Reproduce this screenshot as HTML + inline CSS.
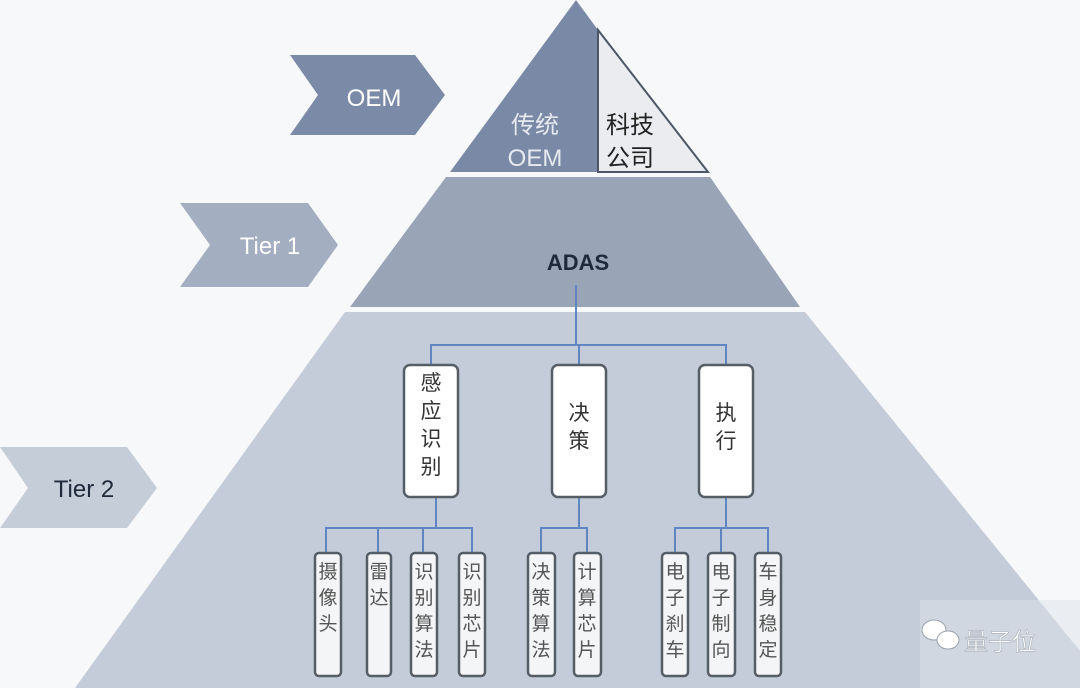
<!DOCTYPE html>
<html><head><meta charset="utf-8"><style>
body{margin:0;background:#fff}
svg{display:block}
text{font-family:"Liberation Sans","Noto Sans CJK SC",sans-serif}
</style></head><body>
<svg width="1080" height="688" viewBox="0 0 1080 688" xmlns="http://www.w3.org/2000/svg">
<rect width="1080" height="688" fill="#f7f8fa"/>
<!-- tier2 -->
<polygon points="345,312 805,312 1110,688 75,688" fill="#c4ccd9"/>
<rect x="920" y="600" width="160" height="88" fill="#dde1e8" opacity="0.5"/>
<!-- tier1 -->
<polygon points="446,177 710,177 800,307 350,307" fill="#99a4b7"/>
<!-- top -->
<polygon points="576,0 598,30 598,172 450,172" fill="#7a8aa6"/>
<polygon points="598,30 708,172 598,172" fill="#eaecef" stroke="#4d5666" stroke-width="2"/>
<text x="535" y="133" font-size="24" fill="#e6eaf0" text-anchor="middle">传统</text>
<text x="535" y="166" font-size="24" fill="#e6eaf0" text-anchor="middle">OEM</text>
<text x="630" y="133" font-size="24" fill="#222" text-anchor="middle">科技</text>
<text x="630" y="166" font-size="24" fill="#222" text-anchor="middle">公司</text>
<text x="578" y="270" font-size="22" font-weight="bold" fill="#1e2a3a" text-anchor="middle">ADAS</text>
<!-- chevrons -->
<polygon points="290,55 415,55 445,95 415,135 290,135 318,95" fill="#7b8aa6"/>
<text x="374" y="106" font-size="24" fill="#fff" text-anchor="middle">OEM</text>
<polygon points="180,203 308,203 338,245 308,287 180,287 210,245" fill="#a3aec0"/>
<text x="270" y="254" font-size="24" fill="#fff" text-anchor="middle">Tier 1</text>
<polygon points="0,447 127,447 157,488 127,528 0,528 28,488" fill="#c5cdd9"/>
<text x="84" y="497" font-size="24" fill="#1e2a3a" text-anchor="middle">Tier 2</text>
<!-- connectors -->
<g stroke="#5f86c2" stroke-width="2" fill="none">
<path d="M576,285V345M431,365V345H726V365M579,345V365"/>
<path d="M436,497V528M326,553V528H472V553M378,528V553M423,528V553"/>
<path d="M579,497V528M541,553V528H587V553"/>
<path d="M726,497V528M675,553V528H768V553M721,528V553"/>
</g>
<!-- mid boxes -->
<g fill="#fff" stroke="#555d66" stroke-width="2.5">
<rect x="404" y="365" width="54" height="132" rx="6"/>
<rect x="552" y="365" width="54" height="132" rx="6"/>
<rect x="699" y="365" width="54" height="132" rx="6"/>
</g>
<g font-size="21" fill="#333" text-anchor="middle">
<text x="431" y="390">感</text><text x="431" y="418">应</text><text x="431" y="446">识</text><text x="431" y="474">别</text>
<text x="579" y="420">决</text><text x="579" y="448">策</text>
<text x="726" y="420">执</text><text x="726" y="448">行</text>
</g>
<!-- leaf boxes -->
<g fill="#f4f5f6" stroke="#555d66" stroke-width="2.5">
<rect x="315" y="553" width="26" height="123" rx="4"/>
<rect x="367" y="553" width="24" height="123" rx="4"/>
<rect x="411" y="553" width="26" height="123" rx="4"/>
<rect x="459" y="553" width="26" height="123" rx="4"/>
<rect x="528" y="553" width="27" height="123" rx="4"/>
<rect x="574" y="553" width="27" height="123" rx="4"/>
<rect x="662" y="553" width="26" height="123" rx="4"/>
<rect x="708" y="553" width="27" height="123" rx="4"/>
<rect x="755" y="553" width="26" height="123" rx="4"/>
</g>
<g font-size="19" fill="#555" text-anchor="middle">
<text x="328" y="578">摄</text><text x="328" y="604">像</text><text x="328" y="630">头</text>
<text x="379" y="578">雷</text><text x="379" y="604">达</text>
<text x="424" y="578">识</text><text x="424" y="604">别</text><text x="424" y="630">算</text><text x="424" y="656">法</text>
<text x="472" y="578">识</text><text x="472" y="604">别</text><text x="472" y="630">芯</text><text x="472" y="656">片</text>
<text x="541" y="578">决</text><text x="541" y="604">策</text><text x="541" y="630">算</text><text x="541" y="656">法</text>
<text x="587" y="578">计</text><text x="587" y="604">算</text><text x="587" y="630">芯</text><text x="587" y="656">片</text>
<text x="675" y="578">电</text><text x="675" y="604">子</text><text x="675" y="630">刹</text><text x="675" y="656">车</text>
<text x="721" y="578">电</text><text x="721" y="604">子</text><text x="721" y="630">制</text><text x="721" y="656">向</text>
<text x="768" y="578">车</text><text x="768" y="604">身</text><text x="768" y="630">稳</text><text x="768" y="656">定</text>
</g>
<!-- watermark -->
<g fill="#fff" stroke="#9aa3b0" stroke-width="1">
<ellipse cx="934" cy="630" rx="12" ry="10"/>
<ellipse cx="948" cy="640" rx="11" ry="9"/>
</g>
<text x="964" y="650" font-size="24" fill="#fff" stroke="#9aa3b0" stroke-width="0.5">量子位</text>
</svg>
</body></html>
